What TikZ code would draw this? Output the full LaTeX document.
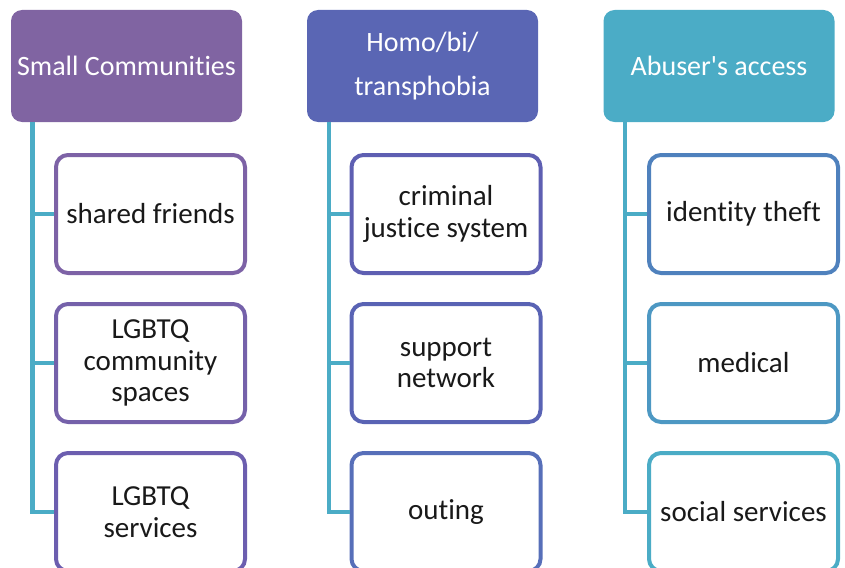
\documentclass[tikz,border=0pt]{standalone}
\usepackage{fontspec}
\setmainfont{Carlito}[Ligatures=NoCommon]
\definecolor{hdA}{HTML}{8064A2}
\definecolor{hdB}{HTML}{5A66B4}
\definecolor{hdC}{HTML}{4BACC6}
\definecolor{bdA}{HTML}{7D62A6}
\definecolor{bdB}{HTML}{7561AA}
\definecolor{bdC}{HTML}{6C5EAF}
\definecolor{bdD}{HTML}{5E5FB2}
\definecolor{bdE}{HTML}{5963B4}
\definecolor{bdF}{HTML}{576FB9}
\definecolor{bdG}{HTML}{4F81BD}
\definecolor{bdH}{HTML}{4D98C3}
\definecolor{bdI}{HTML}{4BACC6}
\definecolor{link}{HTML}{4BACC6}
\begin{document}
\begin{tikzpicture}[x=1pt,y=-1pt,
    header/.style={fill=#1,draw=none,rounded corners=11pt,minimum width=231pt,
      minimum height=112pt,inner sep=0pt,text=white,align=center,
      font=\fontsize{28}{44}\selectfont},
    item/.style={draw=#1,fill=white,line width=4pt,rounded corners=12pt,
      minimum width=189pt,minimum height=118pt,inner sep=0pt,align=center,
      text=black!90,font=\fontsize{29}{31.5}\selectfont},
    conn/.style={draw=link,line width=4.5pt}]
      \useasboundingbox (0,0) rectangle (845,567);
      % headers
      \node[header=hdA] (small) at (126.5,66) {Small Communities};
      \node[header=hdB] (phobia) at (422.5,66) {Homo/bi/\\transphobia};
      \node[header=hdC] (abuser) at (719,66) {Abuser\textquotesingle s access};
      % first column
      \node[item=bdA] (friends) at (150.5,214) {shared friends};
      \node[item=bdB] (spaces) at (150.5,363) {LGBTQ\\community\\spaces};
      \node[item=bdC] (lservices) at (150.5,512) {LGBTQ\\services};
      % second column
      \node[item=bdD] (justice) at (446,214) {criminal\\justice system};
      \node[item=bdE] (network) at (446,363) {support\\network};
      \node[item=bdF] (outing) at (446,512) {outing};
      % third column
      \node[item=bdG] (theft) at (743.5,214) {identity theft};
      \node[item=bdH] (medical) at (743.5,363) {medical};
      \node[item=bdI] (social) at (743.5,512) {social services};
      % links
      \draw[conn] ([xshift=21.5pt]small.south west) |- (friends.west);
      \draw[conn] ([xshift=21.5pt]small.south west) |- (spaces.west);
      \draw[conn] ([xshift=21.5pt]small.south west) |- (lservices.west);
      \draw[conn] ([xshift=22pt]phobia.south west) |- (justice.west);
      \draw[conn] ([xshift=22pt]phobia.south west) |- (network.west);
      \draw[conn] ([xshift=22pt]phobia.south west) |- (outing.west);
      \draw[conn] ([xshift=21.5pt]abuser.south west) |- (theft.west);
      \draw[conn] ([xshift=21.5pt]abuser.south west) |- (medical.west);
      \draw[conn] ([xshift=21.5pt]abuser.south west) |- (social.west);
    \end{tikzpicture}
\end{document}
